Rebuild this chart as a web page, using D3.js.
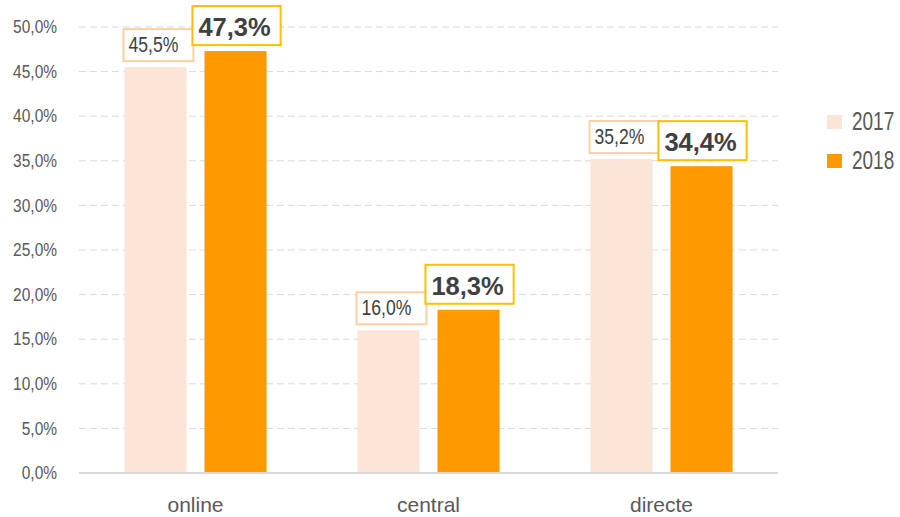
<!DOCTYPE html>
<html>
<head>
<meta charset="utf-8">
<script src="https://cdn.jsdelivr.net/npm/d3@7"></script>
<style>
  body { margin: 0; background: #fff; }
  svg { display: block; font-family: "Liberation Sans", Arial, sans-serif; }
  .tick text { fill: #595959; }
</style>
</head>
<body>
<svg id="chart" width="900" height="517"></svg>
<script>
const categories = ["online", "central", "directe"];
const years = ["2017", "2018"];
const values2017 = [45.5, 16.0, 35.2];
const values2018 = [47.3, 18.3, 34.4];
const yTicks = [0, 5, 10, 15, 20, 25, 30, 35, 40, 45, 50];

const colors = {"2017": "#fbe5d6", "2018": "#ff9900"};
const boxStroke = {"2017": "#fdd0a2", "2018": "#ffc000"};

const margin = {top: 27, right: 122, bottom: 44, left: 79},
      width = 900 - margin.left - margin.right,
      height = 517 - margin.top - margin.bottom;

const data = categories.map((c, i) => ({cat: c, "2017": values2017[i], "2018": values2018[i]}));
const fmt = v => d3.format(".1f")(v).replace(".", ",") + "%";

// the original uses a condensed face, squeeze the glyphs horizontally
function squeeze(sel, f) {
  sel.each(function() {
    const w = this.getComputedTextLength();
    this.setAttribute("textLength", w * f);
    this.setAttribute("lengthAdjust", "spacingAndGlyphs");
  });
}

const svg = d3.select("#chart")
  .append("g")
    .attr("transform", `translate(${margin.left},${margin.top})`);

const x0 = d3.scaleBand().domain(categories).range([0, width]);
const x1 = d3.scaleBand().domain(years)
    .range([x0.bandwidth() * 0.195, x0.bandwidth() * 0.805])
    .paddingInner(0.225);
const y = d3.scaleLinear().domain([0, 50]).range([height, 0]);

// gridlines
svg.append("g")
    .selectAll("line")
    .data(yTicks.filter(d => d > 0))
  .enter().append("line")
    .attr("x1", 0).attr("x2", width)
    .attr("y1", d => y(d)).attr("y2", d => y(d))
    .attr("stroke", "#d9d9d9")
    .attr("stroke-width", 1)
    .attr("stroke-dasharray", "7,4");

// y axis
const yAxis = svg.append("g")
    .call(d3.axisLeft(y).tickValues(yTicks).tickFormat(fmt).tickSize(0).tickPadding(22));
yAxis.select(".domain").remove();
yAxis.selectAll("text").style("font-size", "18px").call(squeeze, 0.86);

// bars
const groups = svg.selectAll(".grp")
    .data(data)
  .enter().append("g")
    .attr("class", "grp")
    .attr("transform", d => `translate(${x0(d.cat)},0)`);

groups.selectAll("rect")
    .data(d => years.map(k => ({key: k, value: d[k]})))
  .enter().append("rect")
    .attr("x", d => x1(d.key))
    .attr("y", d => y(d.value))
    .attr("width", x1.bandwidth())
    .attr("height", d => height - y(d.value))
    .attr("fill", d => colors[d.key]);

// value labels in boxes
const labels = groups.selectAll(".lbl")
    .data(d => years.map(k => ({key: k, value: d[k]})))
  .enter().append("g")
    .attr("class", "lbl");

labels.append("text")
    .attr("x", d => x1(d.key) + x1.bandwidth() / 2 + (d.key === "2017" ? -2 : -1))
    .attr("y", d => y(d.value) - 15)
    .attr("text-anchor", "middle")
    .style("font-size", d => d.key === "2017" ? "22px" : "26px")
    .style("font-weight", d => d.key === "2017" ? "normal" : "bold")
    .style("fill", "#404040")
    .text(d => fmt(d.value))
    .each(function(d) {
      const first = d.key === "2017";
      const w = this.getComputedTextLength() * (first ? 0.8 : 0.98);
      this.setAttribute("textLength", w);
      this.setAttribute("lengthAdjust", "spacingAndGlyphs");
      const cx = +this.getAttribute("x"), base = +this.getAttribute("y");
      const left = cx - w / 2 - (first ? 5 : 6),
            right = cx + w / 2 + (first ? 15 : 10),
            top = base - (first ? 23 : 30),
            bottom = base + 9;
      d3.select(this.parentNode).insert("rect", "text")
        .attr("x", left)
        .attr("y", top)
        .attr("width", right - left)
        .attr("height", bottom - top)
        .attr("fill", "#fff")
        .attr("stroke", boxStroke[d.key])
        .attr("stroke-width", 2);
    });

// baseline
svg.append("line")
    .attr("x1", 0).attr("x2", width)
    .attr("y1", height).attr("y2", height)
    .attr("stroke", "#d9d9d9")
    .attr("stroke-width", 2);

// x axis labels
svg.selectAll(".cat")
    .data(categories)
  .enter().append("text")
    .attr("class", "cat")
    .attr("x", d => x0(d) + x0.bandwidth() / 2)
    .attr("y", height + 39)
    .attr("text-anchor", "middle")
    .style("font-size", "21px")
    .style("fill", "#595959")
    .text(d => d);

// legend
const legend = d3.select("#chart").selectAll(".legend")
    .data(years)
  .enter().append("g")
    .attr("class", "legend")
    .attr("transform", (d, i) => `translate(827,${115 + i * 39})`);

legend.append("rect")
    .attr("width", 15)
    .attr("height", 14)
    .attr("fill", d => colors[d]);

legend.append("text")
    .attr("transform", "translate(25,15) scale(0.76,1)")
    .style("font-size", "25px")
    .style("fill", "#595959")
    .text(d => d);
</script>
</body>
</html>
